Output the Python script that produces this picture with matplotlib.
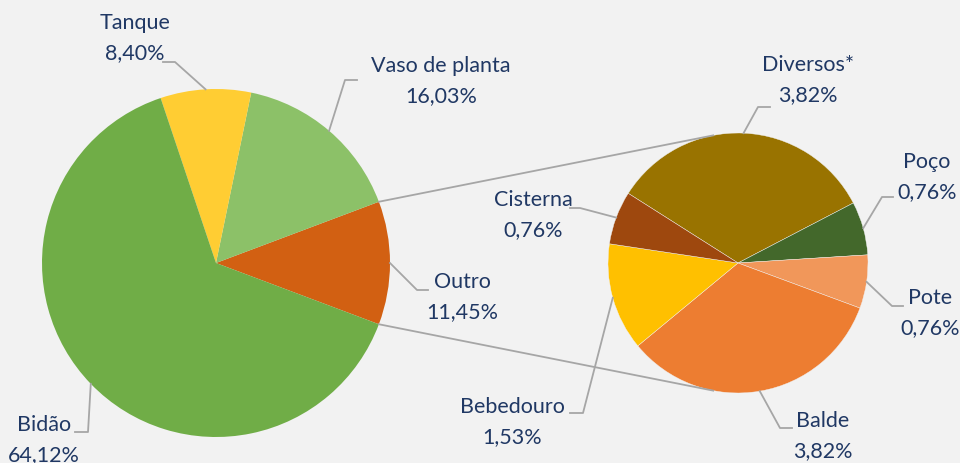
import numpy as np
import matplotlib
matplotlib.use("Agg")
import matplotlib.pyplot as plt

# main pie (Outro is exploded into the second pie)
main_labels = ["Outro", "Vaso de planta", "Tanque", "Bidão"]
main_values = [11.45, 16.03, 8.40, 64.12]
main_colors = ["#D26012", "#8CC168", "#FFCD33", "#70AD47"]

# second pie: breakdown of "Outro"
sub_labels = ["Diversos*", "Poço", "Pote", "Balde", "Bebedouro", "Cisterna"]
sub_values = [3.82, 0.76, 0.76, 3.82, 1.53, 0.76]
sub_colors = ["#997300", "#43682B", "#F1975A", "#ED7D31", "#FFC000", "#9E480E"]

W, H = 960, 463
txt_color = "#203864"
line_color = "#A6A6A6"
plt.rcParams['font.family'] = ['Lato', 'DejaVu Sans']

fig = plt.figure(figsize=(W / 100, H / 100), dpi=100)
fig.patch.set_facecolor("#F2F2F2")
ax = fig.add_axes([0, 0, 1, 1])
ax.set_facecolor("#F2F2F2")

c1, r1 = (216, 200), 174
c2, r2 = (738, 200), 130

outro_share = main_values[0] / sum(main_values) * 360
w1, _ = ax.pie(main_values, colors=main_colors, center=c1, radius=r1,
               startangle=-outro_share / 2, counterclock=True,
               wedgeprops=dict(linewidth=0))
w2, _ = ax.pie(sub_values, colors=sub_colors, center=c2, radius=r2,
               startangle=147.6, counterclock=False,
               wedgeprops=dict(linewidth=0.3, edgecolor="#F2F2F2"))

ax.set_xlim(0, W)
ax.set_ylim(0, H)
ax.set_aspect("equal")
ax.axis("off")


def pt(c, r, ang):
    a = np.deg2rad(ang)
    return c[0] + r * np.cos(a), c[1] + r * np.sin(a)


# connector lines between the pies
o = w1[0]
for ang1, ang2 in [(o.theta2, 101), (o.theta1, -101)]:
    x0, y0 = pt(c1, r1, ang1)
    x1, y1 = pt(c2, r2, ang2)
    ax.plot([x0, x1], [y0, y1], color=line_color, lw=1.3)

# label layout in image pixels: name center, elbow, leader end
main_layout = {
    "Tanque": ((135, 23), (175, 62), (163, 62)),
    "Vaso de planta": ((441, 66), (345, 80), (357, 80)),
    "Outro": ((462, 282), (417, 290), (428, 290)),
    "Bidão": ((44, 425), (88, 432), (75, 432)),
}
sub_layout = {
    "Diversos*": ((808, 65), (758, 107), (770, 107)),
    "Poço": ((927, 162), (882, 197), (893, 197)),
    "Pote": ((930, 298), (892, 306), (903, 306)),
    "Balde": ((823, 421), (780, 428), (792, 428)),
    "Bebedouro": ((512, 407), (583, 413), (570, 413)),
    "Cisterna": ((533, 200), (580, 208), (570, 208)),
}


def fmt(v):
    return ("%.2f%%" % v).replace(".", ",")


def label(wedges, names, values, c, r, layout):
    for w, name, v in zip(wedges, names, values):
        (tx, ty), (ex, ey), (fx, fy) = layout[name]
        ax0, ay0 = pt(c, r, (w.theta1 + w.theta2) / 2)
        ax.plot([ax0, ex, fx], [ay0, H - ey, H - fy], color=line_color, lw=1.3)
        ax.text(tx, H - ty, name, ha="center", va="center", fontsize=15.5, color=txt_color)
        ax.text(tx, H - ty - 30, fmt(v), ha="center", va="center", fontsize=15.5, color=txt_color)


label(w1, main_labels, main_values, c1, r1, main_layout)
label(w2, sub_labels, sub_values, c2, r2, sub_layout)

fig.savefig("out.png", dpi=100, facecolor=fig.get_facecolor())
